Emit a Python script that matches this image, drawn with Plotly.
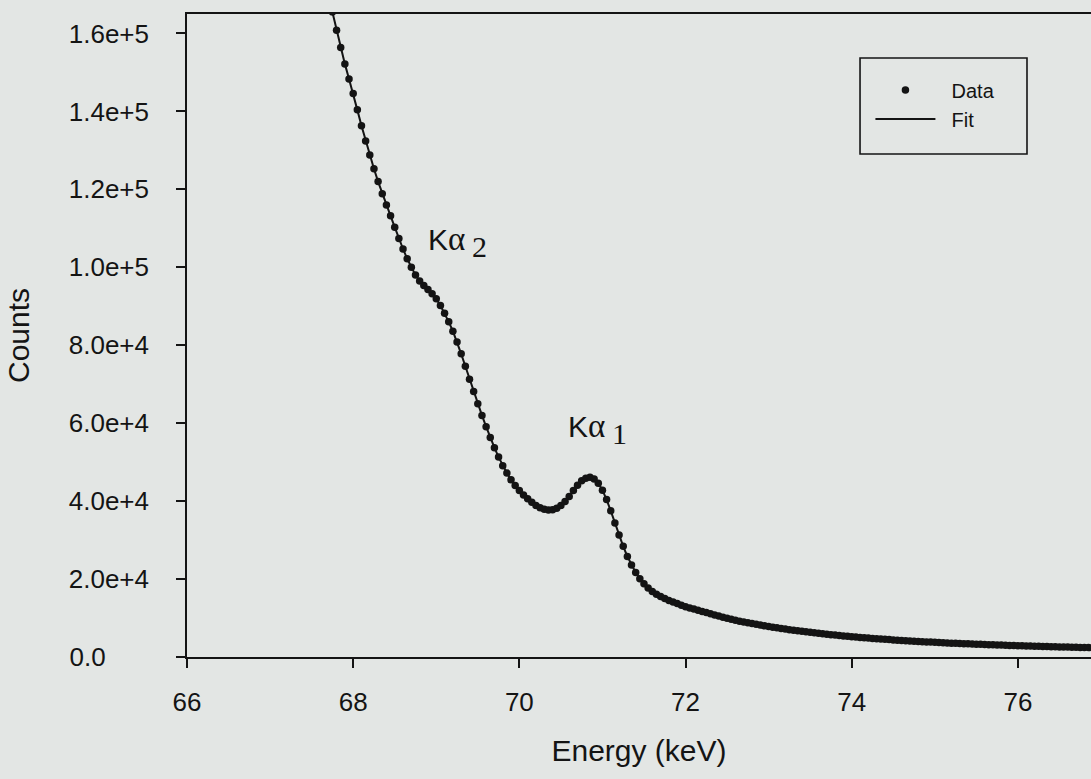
import plotly.graph_objects as go

# Hg K-alpha region of the spectrum: channel energies (keV) and measured counts
energy_kev = [
    67.75, 67.80, 67.85, 67.90, 67.95, 68.00, 68.05, 68.10, 68.15, 68.20,
    68.25, 68.30, 68.35, 68.40, 68.45, 68.50, 68.55, 68.60, 68.65, 68.70,
    68.75, 68.80, 68.85, 68.90, 68.95, 69.00, 69.05, 69.10, 69.15, 69.20,
    69.25, 69.30, 69.35, 69.40, 69.45, 69.50, 69.55, 69.60, 69.65, 69.70,
    69.75, 69.80, 69.85, 69.90, 69.95, 70.00, 70.05, 70.10, 70.15, 70.20,
    70.25, 70.30, 70.35, 70.40, 70.45, 70.50, 70.55, 70.60, 70.65, 70.70,
    70.75, 70.80, 70.85, 70.90, 70.95, 71.00, 71.05, 71.10, 71.15, 71.20,
    71.25, 71.30, 71.35, 71.40, 71.45, 71.50, 71.55, 71.60, 71.65, 71.70,
    71.75, 71.80, 71.85, 71.90, 71.95, 72.00, 72.05, 72.10, 72.15, 72.20,
    72.25, 72.30, 72.35, 72.40, 72.45, 72.50, 72.55, 72.60, 72.65, 72.70,
    72.75, 72.80, 72.85, 72.90, 72.95, 73.00, 73.05, 73.10, 73.15, 73.20,
    73.25, 73.30, 73.35, 73.40, 73.45, 73.50, 73.55, 73.60, 73.65, 73.70,
    73.75, 73.80, 73.85, 73.90, 73.95, 74.00, 74.05, 74.10, 74.15, 74.20,
    74.25, 74.30, 74.35, 74.40, 74.45, 74.50, 74.55, 74.60, 74.65, 74.70,
    74.75, 74.80, 74.85, 74.90, 74.95, 75.00, 75.05, 75.10, 75.15, 75.20,
    75.25, 75.30, 75.35, 75.40, 75.45, 75.50, 75.55, 75.60, 75.65, 75.70,
    75.75, 75.80, 75.85, 75.90, 75.95, 76.00, 76.05, 76.10, 76.15, 76.20,
    76.25, 76.30, 76.35, 76.40, 76.45, 76.50, 76.55, 76.60, 76.65, 76.70,
    76.75, 76.80, 76.85, 76.90,
]

data_counts = [
    165500, 160800, 156400, 152200, 148300, 144600, 140400, 136300, 132400, 128800,
    125300, 122000, 118900, 116000, 113200, 110300, 107400, 104700, 102200, 100000,
    98000, 96500, 95300, 94300, 93200, 91900, 90200, 88200, 86000, 83600,
    80800, 77800, 74600, 71300, 68100, 65000, 62000, 59100, 56300, 53700,
    51300, 49100, 47200, 45500, 44000, 42700, 41600, 40600, 39700, 38900,
    38300, 37900, 37700, 37800, 38200, 38900, 39900, 41200, 42700, 44100,
    45200, 45900, 46100, 45700, 44600, 42800, 40400, 37500, 34400, 31300,
    28400, 25800, 23600, 21700, 20100, 18800, 17700, 16800, 16100, 15500,
    15000, 14500, 14100, 13700, 13300, 12900, 12600, 12300, 12000, 11700,
    11400, 11100, 10800, 10500, 10200, 9950, 9700, 9450, 9200, 8990,
    8780, 8580, 8380, 8190, 8010, 7830, 7660, 7490, 7330, 7170,
    7020, 6870, 6730, 6590, 6460, 6330, 6200, 6080, 5960, 5840,
    5730, 5620, 5510, 5410, 5310, 5210, 5120, 5030, 4940, 4850,
    4770, 4690, 4610, 4530, 4460, 4390, 4320, 4250, 4180, 4120,
    4060, 4000, 3940, 3880, 3820, 3770, 3720, 3660, 3610, 3560,
    3510, 3470, 3420, 3380, 3330, 3290, 3250, 3210, 3170, 3130,
    3090, 3050, 3010, 2980, 2940, 2910, 2870, 2840, 2810, 2780,
    2740, 2710, 2680, 2650, 2620, 2590, 2570, 2540, 2510, 2490,
    2460, 2440, 2410, 2390,
]

# fitted model evaluated on the same channels
fit_counts = list(data_counts)

x_ticks = [66, 68, 70, 72, 74, 76]
y_ticks = [0, 20000, 40000, 60000, 80000, 100000, 120000, 140000, 160000]
y_tick_labels = ["0.0", "2.0e+4", "4.0e+4", "6.0e+4", "8.0e+4",
                 "1.0e+5", "1.2e+5", "1.4e+5", "1.6e+5"]

# peak labels: (subscript, energy, counts) at the left edge of each label
peak_labels = [
    ("2", 68.88, 106500),
    ("1", 70.56, 58500),
]

BG = "#e3e6e4"
INK = "#141414"
SANS = "Liberation Sans, Arial, sans-serif"

# left-align the tick labels by padding the shorter ones with no-break spaces
pad = {3: "\u00a0" * 6, 6: ""}
y_tick_text = [t + pad.get(len(t), "") for t in y_tick_labels]

fig = go.Figure()
fig.add_trace(go.Scatter(
    x=energy_kev, y=data_counts, mode="markers", name="\u00a0\u00a0Data",
    marker=dict(color=INK, size=7.5, line=dict(width=0)),
))
fig.add_trace(go.Scatter(
    x=energy_kev, y=fit_counts, mode="lines", name="\u00a0\u00a0Fit",
    line=dict(color=INK, width=2),
))

for sub, ex, cy in peak_labels:
    fig.add_annotation(
        x=ex, y=cy, xref="x", yref="y", xanchor="left", yanchor="middle",
        showarrow=False,
        text=("K<span style=\"font-family:'Liberation Serif';font-size:33px\">\u03b1\u2009"
              "<sub><span style=\"font-size:30px\">" + sub + "</span></sub></span>"),
        font=dict(family=SANS, size=30, color=INK),
    )

# legend frame
fig.add_shape(
    type="rect", xref="paper", yref="paper",
    x0=0.7445, x1=0.9292, y0=0.7823, y1=0.9316,
    line=dict(color=INK, width=1.6), fillcolor="rgba(0,0,0,0)",
)

fig.update_layout(
    width=1091, height=779,
    margin=dict(l=187, r=0, t=14, b=122),
    paper_bgcolor=BG, plot_bgcolor=BG,
    font=dict(family=SANS, color=INK),
    showlegend=True,
    legend=dict(
        x=0.756, y=0.912, xanchor="left", yanchor="top",
        bgcolor="rgba(0,0,0,0)", borderwidth=0,
        font=dict(family=SANS, size=20, color=INK),
        itemwidth=60, tracegroupgap=4,
    ),
    xaxis=dict(
        range=[66, 76.88], tickmode="array", tickvals=x_ticks,
        ticktext=[str(v) for v in x_ticks],
        ticks="outside", ticklen=9, tickwidth=1.5, tickcolor=INK,
        showline=True, linecolor=INK, linewidth=1.6, mirror=True,
        showgrid=False, zeroline=False,
        tickfont=dict(family=SANS, size=26, color=INK),
        ticklabelstandoff=12,
        title=dict(text="Energy (keV)", standoff=24,
                   font=dict(family=SANS, size=30, color=INK)),
    ),
    yaxis=dict(
        range=[0, 165000], tickmode="array", tickvals=y_ticks,
        ticktext=y_tick_text,
        ticks="outside", ticklen=9, tickwidth=1.5, tickcolor=INK,
        showline=True, linecolor=INK, linewidth=1.6, mirror=False,
        showgrid=False, zeroline=False,
        tickfont=dict(family=SANS, size=26, color=INK),
        ticklabelstandoff=22,
        title=dict(text="Counts", standoff=30,
                   font=dict(family=SANS, size=30, color=INK)),
    ),
)

fig.write_html("out.html")
